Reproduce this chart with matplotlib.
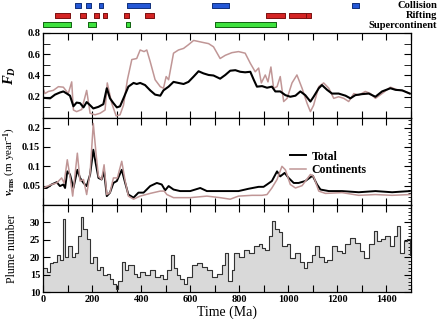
import matplotlib
matplotlib.use("Agg")
from matplotlib import pyplot as plt
from matplotlib.ticker import MultipleLocator

# ---- data ----
# F_D, total
fd_tot_t = [0, 29, 49, 69, 83, 97, 110, 124, 137, 151,
            165, 178, 192, 205, 226, 246, 260, 273, 287, 301,
            314, 328, 348, 369, 382, 396, 416, 437, 457, 478,
            491, 512, 532, 552, 573, 593, 614, 634, 654, 675,
            695, 722, 743, 763, 784, 804, 824, 845, 859, 872,
            893, 913, 933, 947, 967, 988, 1008, 1029, 1049, 1069,
            1090, 1103, 1124, 1137, 1158, 1178, 1205, 1233, 1253, 1273,
            1301, 1328, 1355, 1382, 1416, 1437, 1464, 1495]
fd_tot = [0.19, 0.185, 0.22, 0.24, 0.25, 0.23, 0.21, 0.11, 0.145, 0.14,
          0.10, 0.15, 0.12, 0.09, 0.105, 0.13, 0.28, 0.185, 0.14, 0.10,
          0.11, 0.185, 0.295, 0.33, 0.32, 0.33, 0.31, 0.26, 0.22, 0.21,
          0.26, 0.295, 0.34, 0.33, 0.32, 0.34, 0.39, 0.44, 0.42, 0.405,
          0.40, 0.37, 0.405, 0.445, 0.45, 0.435, 0.43, 0.435, 0.36, 0.295,
          0.30, 0.285, 0.295, 0.25, 0.25, 0.215, 0.20, 0.21, 0.25, 0.215,
          0.155, 0.20, 0.28, 0.31, 0.265, 0.23, 0.23, 0.21, 0.185, 0.215,
          0.225, 0.23, 0.20, 0.25, 0.28, 0.265, 0.26, 0.23]

# F_D, continents
fd_con_t = [0, 8, 22, 42, 63, 83, 103, 117, 124, 137,
            158, 178, 192, 212, 233, 253, 262, 280, 298, 314,
            328, 344, 362, 382, 396, 412, 423, 437, 457, 478,
            491, 502, 512, 532, 552, 573, 593, 614, 634, 654,
            675, 695, 722, 743, 770, 797, 824, 845, 865, 879,
            890, 906, 917, 929, 940, 954, 967, 981, 995, 1015,
            1035, 1056, 1076, 1090, 1103, 1124, 1144, 1165, 1185, 1205,
            1226, 1246, 1267, 1287, 1314, 1335, 1355, 1382, 1416, 1444,
            1471, 1495]
fd_con = [0.28, 0.23, 0.25, 0.26, 0.295, 0.29, 0.23, 0.34, 0.075, 0.06,
          0.08, 0.26, 0.045, 0.03, 0.045, 0.075, 0.33, 0.14, 0.02, 0.03,
          0.12, 0.36, 0.55, 0.56, 0.64, 0.625, 0.64, 0.53, 0.36, 0.295,
          0.28, 0.39, 0.36, 0.61, 0.64, 0.655, 0.69, 0.73, 0.72, 0.71,
          0.70, 0.67, 0.56, 0.59, 0.615, 0.625, 0.61, 0.515, 0.435, 0.47,
          0.33, 0.405, 0.34, 0.48, 0.28, 0.295, 0.39, 0.155, 0.185, 0.33,
          0.405, 0.28, 0.14, 0.06, 0.12, 0.295, 0.33, 0.28, 0.185, 0.20,
          0.185, 0.155, 0.23, 0.215, 0.25, 0.23, 0.185, 0.23, 0.29, 0.265,
          0.255, 0.23]

# v_rms, total
v_tot_t = [0, 15, 35, 56, 69, 83, 90, 99, 110, 124,
           140, 151, 165, 178, 192, 205, 216, 226, 239, 249,
           260, 273, 287, 301, 321, 335, 348, 369, 389, 410,
           437, 464, 484, 498, 512, 532, 559, 600, 641, 668,
           709, 763, 797, 838, 879, 899, 913, 933, 954, 967,
           985, 1001, 1022, 1042, 1069, 1099, 1117, 1131, 1165, 1219,
           1287, 1355, 1423, 1495]
v_tot = [0.044, 0.044, 0.053, 0.059, 0.049, 0.053, 0.044, 0.087, 0.079, 0.044,
         0.091, 0.07, 0.057, 0.049, 0.079, 0.143, 0.104, 0.07, 0.066, 0.087,
         0.023, 0.032, 0.057, 0.062, 0.091, 0.057, 0.027, 0.019, 0.032, 0.032,
         0.049, 0.057, 0.053, 0.038, 0.049, 0.040, 0.036, 0.036, 0.044, 0.036,
         0.036, 0.036, 0.036, 0.042, 0.047, 0.047, 0.053, 0.062, 0.087, 0.074,
         0.083, 0.070, 0.057, 0.057, 0.062, 0.076, 0.053, 0.040, 0.036, 0.036,
         0.033, 0.036, 0.033, 0.036]

# v_rms, continents
v_con_t = [0, 35, 56, 76, 86, 99, 110, 121, 140, 151,
           165, 178, 192, 205, 216, 226, 239, 249, 260, 273,
           287, 303, 321, 335, 348, 369, 396, 437, 478, 494,
           505, 532, 600, 668, 722, 763, 797, 852, 893, 913,
           933, 954, 974, 988, 1008, 1029, 1056, 1090, 1103, 1124,
           1151, 1219, 1287, 1355, 1423, 1495]
v_con = [0.044, 0.053, 0.057, 0.07, 0.057, 0.117, 0.074, 0.023, 0.134, 0.062,
         0.066, 0.027, 0.083, 0.211, 0.134, 0.074, 0.066, 0.104, 0.027, 0.032,
         0.07, 0.07, 0.113, 0.062, 0.023, 0.015, 0.023, 0.030, 0.036, 0.036,
         0.027, 0.019, 0.019, 0.023, 0.019, 0.015, 0.023, 0.025, 0.025, 0.027,
         0.044, 0.066, 0.10, 0.091, 0.053, 0.044, 0.050, 0.079, 0.074, 0.036,
         0.030, 0.032, 0.025, 0.027, 0.025, 0.027]

# plume number
plume_t = [0, 15, 29, 42, 56, 69, 80, 90, 103, 117,
           131, 144, 154, 165, 178, 192, 205, 219, 233, 246,
           260, 273, 287, 298, 307, 321, 335, 348, 369, 382,
           396, 416, 437, 457, 478, 491, 505, 521, 532, 546,
           559, 573, 586, 607, 627, 648, 668, 688, 709, 729,
           743, 756, 770, 777, 797, 818, 838, 859, 879, 893,
           906, 920, 933, 947, 961, 974, 995, 1008, 1029, 1049,
           1063, 1076, 1097, 1110, 1124, 1144, 1158, 1178, 1199, 1219,
           1233, 1253, 1273, 1294, 1307, 1328, 1348, 1362, 1376, 1396,
           1416, 1430, 1444, 1457, 1471, 1484, 1495]
plume_n = [16.8, 15.8, 18.2, 18.7, 20.7, 19.2, 31, 20.2, 23.2, 20.2,
           21.2, 26.1, 31.5, 28.0, 25.1, 18.2, 20.2, 16.3, 17.2, 14.8,
           15.3, 13.8, 12.4, 10.9, 13.3, 18.7, 16.3, 17.7, 15.3, 14.3,
           15.8, 14.8, 16.3, 14.3, 14.8, 13.8, 16.3, 20.7, 16.8, 14.8,
           13.8, 12.4, 14.3, 17.7, 18.2, 17.2, 16.3, 14.3, 15.3, 17.7,
           21.2, 13.3, 16.3, 21.2, 20.2, 22.2, 21.2, 23.2, 23.7, 22.7,
           22.2, 26.1, 30.5, 28.0, 27.1, 23.2, 23.7, 19.7, 21.2, 18.7,
           16.8, 18.7, 20.7, 23.2, 20.2, 18.7, 19.2, 23.2, 21.7, 21.2,
           23.7, 25.6, 24.1, 21.7, 19.7, 23.7, 27.6, 24.6, 25.1, 26.1,
           23.2, 26.1, 29.1, 21.2, 24.6, 25.1, 20.7]

# event intervals (start, end) in Ma
collision = [(130, 155), (175, 196), (228, 245), (342, 436), (689, 758), (1260, 1288)]
rifting = [(49, 111), (151, 175), (209, 227), (246, 260), (330, 349), (414, 453),
           (908, 987), (1002, 1070), (1070, 1093)]
supercontinent = [(0, 113), (183, 216), (338, 353), (702, 948)]

event_names = ['Collision', 'Rifting', 'Supercontinent']

# ---- style ----
plt.rcParams['font.family'] = 'Liberation Serif'
plt.rcParams['font.weight'] = 'bold'
plt.rcParams['mathtext.fontset'] = 'custom'
plt.rcParams['mathtext.rm'] = 'Liberation Serif:bold'
plt.rcParams['mathtext.it'] = 'Liberation Serif:italic:bold'
plt.rcParams['mathtext.bf'] = 'Liberation Serif:bold'

black = 'black'
rosy = '#c09696'

fig = plt.figure(figsize=(4.4, 3.19), dpi=100)
W, H = 440.0, 319.0
left, right = 43 / W, 411 / W


def px_axes(y_top, y_bot):
    return fig.add_axes([left, 1 - y_bot / H, right - left, (y_bot - y_top) / H])


ax_ev = px_axes(0, 31)
ax1 = px_axes(33, 118)
ax2 = px_axes(118, 205)
ax3 = px_axes(205, 292)

# events strip
rows = [(collision, 5.5, '#2457d6', '#10307a'),
        (rifting, 15.3, '#d42424', '#7a1010'),
        (supercontinent, 24.6, '#3ee23e', '#106010')]
for (spans, yc, fc, ec), name in zip(rows, event_names):
    ax_ev.broken_barh([(a, b - a) for a, b in spans], (yc - 2.3, 4.6),
                      facecolors=fc, edgecolors=ec, linewidth=0.7)
    fig.text(437 / W, 1 - (yc + 0.5) / H, name, ha='right', va='center',
             fontsize=7.6, fontweight='bold')
ax_ev.set_xlim(0, 1500)
ax_ev.set_ylim(31, 0)
ax_ev.axis('off')

# F_D panel
ax1.plot(fd_con_t, fd_con, color=rosy, lw=1.1)
ax1.plot(fd_tot_t, fd_tot, color=black, lw=1.5)
ax1.set_ylim(0, 0.8)
ax1.set_yticks([0.2, 0.4, 0.6, 0.8])
ax1.yaxis.set_minor_locator(MultipleLocator(0.1))
ax1.set_ylabel('$F_D$', fontsize=10.5)

# v_rms panel
ax2.plot(v_tot_t, v_tot, color=black, lw=1.4, label='Total')
ax2.plot(v_con_t, v_con, color=rosy, lw=1.1, label='Continents')
ax2.set_ylim(0, 0.225)
ax2.set_yticks([0.05, 0.1, 0.15, 0.2])
ax2.set_yticklabels(['0.05', '0.1', '0.15', '0.2'])
ax2.yaxis.set_minor_locator(MultipleLocator(0.01))
ax2.set_ylabel('$v_{\\rm rms}$ (m year$^{-1}$)', fontsize=8)
ax2.legend(loc='upper left', bbox_to_anchor=(0.65, 0.72), frameon=False,
           handlelength=1.3, borderpad=0.2, labelspacing=0.15,
           handletextpad=0.5, prop={'weight': 'bold', 'size': 8.5})

# plume panel
ax3.fill_between(plume_t, plume_n, 10, step='post', color='#d9d9d9', lw=0)
ax3.step(plume_t, plume_n, where='post', color='#333333', lw=0.8)
ax3.set_ylim(10, 35)
ax3.set_yticks([10, 15, 20, 25, 30])
ax3.yaxis.set_minor_locator(MultipleLocator(1))
ax3.set_ylabel('Plume number', fontsize=8.5)
ax3.set_xlabel('Time (Ma)', fontsize=10, labelpad=1)

for ax in (ax1, ax2, ax3):
    ax.set_xlim(0, 1500)
    ax.xaxis.set_major_locator(MultipleLocator(200))
    ax.xaxis.set_minor_locator(MultipleLocator(100))
    ax.tick_params(which='both', direction='in', top=True, right=True,
                   labelsize=7.5, pad=2)
    ax.tick_params(which='major', length=5, width=0.8)
    ax.tick_params(axis='x', which='minor', length=5, width=0.8)
    ax.tick_params(axis='y', which='minor', length=2, width=0.6, left=False)
    ax.yaxis.set_label_coords(-0.068, 0.5)
    for s in ax.spines.values():
        s.set_linewidth(0.9)
    for lab in ax.get_xticklabels() + ax.get_yticklabels():
        lab.set_fontweight('bold')

ax1.tick_params(axis='y', which='minor', left=True, length=5)
ax1.tick_params(labelbottom=False)
ax2.tick_params(labelbottom=False)

fig.savefig('out.png', dpi=100)
